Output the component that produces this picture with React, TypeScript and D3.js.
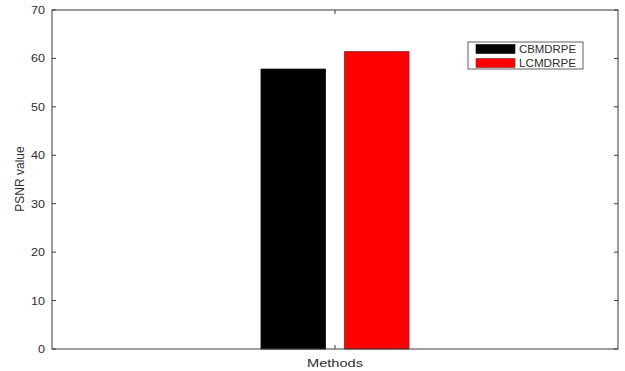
import React from "react";
import * as d3 from "d3";

const categories = ["Methods"];
const seriesNames = ["CBMDRPE", "LCMDRPE"];
const seriesColors = ["#000000", "#ff0000"];
const values = [57.8, 61.4];
const yTicks = [0, 10, 20, 30, 40, 50, 60, 70];

export default function App() {
  const W = 625, H = 371;
  const left = 52, right = 618, top = 10, bottom = 349;
  const y = d3.scaleLinear().domain([0, 70]).range([bottom, top]);
  const x = d3.scaleBand().domain(categories).range([left, right]);
  const cx = (x(categories[0]) as number) + x.bandwidth() / 2;
  const inner = d3.scaleBand().domain(seriesNames).range([cx - 74, cx + 74]).paddingInner(0.23);
  const axisColor = "#3a3a3a";
  const textColor = "#2e2e2e";
  const font = "'Liberation Sans', Arial, sans-serif";
  return (
    <svg width={W} height={H} style={{ position: "absolute", left: 0, top: 0, background: "#fff" }}>
      <rect x={0} y={0} width={W} height={H} fill="#fff" />
      {seriesNames.map((s, i) => (
        <rect key={s} x={inner(s)} y={y(values[i])} width={inner.bandwidth()} height={bottom - y(values[i])}
          fill={seriesColors[i]} stroke={i === 1 ? "#8b1a1a" : "#000"} strokeWidth={0.8} />
      ))}
      <rect x={left} y={top} width={right - left} height={bottom - top} fill="none" stroke={axisColor} strokeWidth={1} />
      {yTicks.map(t => (
        <g key={t}>
          <line x1={left} x2={left + 4} y1={y(t)} y2={y(t)} stroke={axisColor} />
          <line x1={right} x2={right - 4} y1={y(t)} y2={y(t)} stroke={axisColor} />
          <text x={45} y={y(t)} dy="0.35em" textAnchor="end" fontSize={11.5} fontFamily={font} fill={textColor}
            textLength={String(t).length * 7} lengthAdjust="spacingAndGlyphs">{t}</text>
        </g>
      ))}
      <line x1={cx} x2={cx} y1={bottom} y2={bottom - 4} stroke={axisColor} />
      <line x1={cx} x2={cx} y1={top} y2={top + 4} stroke={axisColor} />
      <text x={cx} y={367} textAnchor="middle" fontSize={11.5} fontFamily={font} fill={textColor}
        textLength={56} lengthAdjust="spacingAndGlyphs">{categories[0]}</text>
      <text transform={`translate(24,179) rotate(-90)`} textAnchor="middle" fontSize={12} fontFamily={font} fill={textColor}>PSNR value</text>
      <rect x={468} y={42} width={115} height={27} fill="#fff" stroke={axisColor} strokeWidth={0.8} />
      {seriesNames.map((s, i) => (
        <g key={s}>
          <rect x={476} y={44.5 + i * 14} width={39} height={9} fill={seriesColors[i]} stroke={i === 1 ? "#8b1a1a" : "#000"} strokeWidth={0.6} />
          <text x={519} y={49 + i * 14} dy="0.35em" fontSize={11} fontFamily={font} fill={textColor}
            textLength={57} lengthAdjust="spacingAndGlyphs">{s}</text>
        </g>
      ))}
    </svg>
  );
}
